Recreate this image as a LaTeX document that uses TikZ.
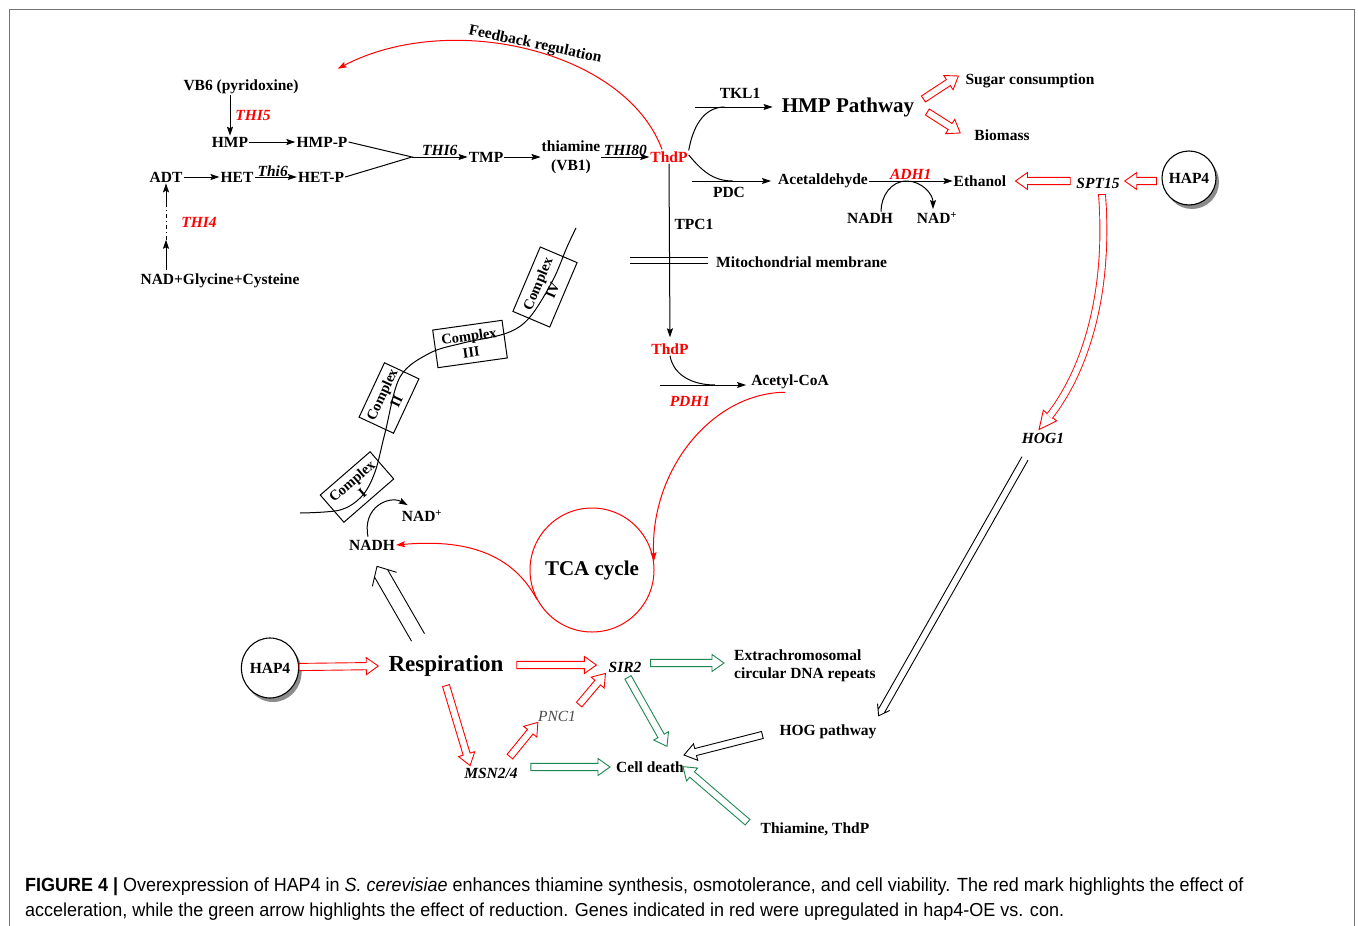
\documentclass[tikz,border=0pt]{standalone}
\usepackage{fontspec}
\setmainfont{Liberation Serif}
\setsansfont{Liberation Sans}
\usetikzlibrary{calc,arrows.meta,shapes.geometric,shadows}
\definecolor{gr}{RGB}{30,135,80}
\definecolor{rd}{RGB}{255,0,0}
% block arrow: options, from, to
\newcommand\barr[3]{%
  \path (#2) coordinate (bA) (#3) coordinate (bB);
  \path ($(bB)!12pt!(bA)$) coordinate (bC);
  \draw[line width=0.9pt, line join=miter, fill=white, #1]
    ($(bA)!3.6pt!90:(bB)$) -- ($(bC)!3.6pt!90:(bB)$) -- ($(bC)!8.5pt!90:(bB)$) -- (bB)
    -- ($(bC)!8.5pt!-90:(bB)$) -- ($(bC)!3.6pt!-90:(bB)$) -- ($(bA)!3.6pt!-90:(bB)$) -- cycle;}
% double-line arrow with open V head: halfwidth, head halfwidth, head length, from, to
\newcommand\darr[5]{%
  \path (#4) coordinate (bA) (#5) coordinate (bB);
  \path ($(bB)!#3!(bA)$) coordinate (bC);
  \path ($(bC)!0.45!(bB)$) coordinate (bD);
  \draw[line width=0.9pt]
    ($(bA)!#1!90:(bB)$) -- ($(bD)!#1!90:(bB)$)
    ($(bA)!#1!-90:(bB)$) -- ($(bD)!#1!-90:(bB)$)
    ($(bC)!#2!90:(bB)$) -- (bB) -- ($(bC)!#2!-90:(bB)$);}
\tikzset{
  t/.style={font=\fontsize{15.5}{17}\selectfont\bfseries, inner sep=1pt},
  ti/.style={font=\fontsize{15.5}{17}\selectfont\bfseries\itshape, inner sep=1pt},
  red text/.style={text=rd},
  big/.style={font=\fontsize{21}{24}\selectfont\bfseries, inner sep=1pt},
  ar/.style={-{Stealth[length=9pt,width=6pt,inset=1.5pt]}, line width=1pt},
  ln/.style={line width=1pt},
  rc/.style={draw=rd, line width=1pt},
  cx/.style={draw, line width=1pt, font=\fontsize{14.5}{16}\selectfont\bfseries, align=center,
    minimum width=64pt, minimum height=38pt, inner sep=0pt},
  hap/.style={draw, line width=1.1pt, fill=white, font=\fontsize{15.5}{17}\selectfont\bfseries,
    inner sep=0pt, drop shadow={shadow xshift=3pt, shadow yshift=-4pt, fill=black!45, opacity=1}},
}
\begin{document}
\begin{tikzpicture}[x=1pt,y=-1pt]
\useasboundingbox (0,0) rectangle (1358,926);
\fill[white] (0,0) rectangle (1358,926);
% frame
\draw[black!55, line width=0.9pt] (9,930) -- (9,9) -- (1354,9) -- (1354,930);

% ---------- thiamine synthesis ----------
\node[t, rotate=-12] (fb) at (535,45) {Feedback regulation};
\node[t] (vb6) at (241,87) {VB6 (pyridoxine)};
\node[ti, red text] (thi5) at (253,116) {THI5};
\node[t] (hmp) at (230,142) {HMP};
\node[t] (hmpp) at (322,142) {HMP-P};
\node[t] (adt) at (166,177) {ADT};
\node[t] (het) at (237,177) {HET};
\node[t] (hetp) at (321,177) {HET-P};
\node[t] (tmp) at (486,157) {TMP};
\node[t, align=center, font=\fontsize{15.5}{19}\selectfont\bfseries] (thia) at (571,157) {thiamine\\(VB1)};
\node[t, red text] (thdp) at (669,157) {ThdP};
\node[t] (nadg) at (220,281) {NAD+Glycine+Cysteine};
\node[ti, red text] (thi4) at (199,222) {THI4};
\coordinate (j) at (412,157);

\draw[ar] (hmp.north |- vb6.south) -- (hmp.north);
\draw[ar] (hmp.east) -- (hmpp.west);
\draw[ar] (adt.east) -- (het.west);
\draw[ar] (het.east) -- node[ti, above=-1pt, xshift=-3pt] (thi6a) {Thi6} (hetp.west);
\draw[ln] (hmpp.east) -- (j) -- (hetp.east);
\draw[ar] (j) -- node[ti, above=0pt] (thi6b) {THI6} (tmp.west);
\draw[ar] (tmp.east) -- (thia.west);
\draw[ar] (thia.east) -- node[ti, above=0pt] (thi80) {THI80} (thdp.west);
\coordinate (a1) at (adt.south |- nadg.north);
\draw[ar] ($(a1)+(0,-3)$) -- ($(a1)+(0,-33)$);
\draw[ln, dash pattern=on 4pt off 3pt on 1pt off 3pt] ($(a1)+(0,-33)$) -- ($(adt.south)+(0,18)$);
\draw[ar] ($(adt.south)+(0,20)$) -- (adt.south);
\draw[rc, -{Stealth[length=9pt,width=6pt,inset=1.5pt]}] ($(thdp.north)+(-7,-1)$) .. controls (625,50) and (450,10) .. ($(vb6.north east)+(38,-10)$);

% ---------- ThdP downstream ----------
\node[t] (tkl) at (740,93) {TKL1};
\node[big] (hmpw) at (848,107) {HMP Pathway};
\node[t] (sugar) at (1030,81) {Sugar consumption};
\node[t] (bio) at (1002,135) {Biomass};
\draw[ar, shorten <=6pt, shorten >=8pt] (thdp.east |- hmpw.west) -- (hmpw.west);
\draw[ln] (thdp.north east) to[out=80,in=180] ($(thdp.east |- hmpw.west)+(36,0)$);
\barr{draw=rd}{$(hmpw.east)+(8,-8)$}{$(sugar.west)+(-6,-5)$}
\barr{draw=rd}{$(hmpw.east)+(12,5)$}{$(bio.west)+(-13,-2)$}

\node[t] (acet) at (823,181) {Acetaldehyde};
\node[t] (pdc) at (729,192) {PDC};
\node[t] (eth) at (980,181) {Ethanol};
\draw[ar, shorten <=3pt, shorten >=6pt] (thdp.east |- acet.west) -- (acet.west);
\draw[ln] ($(thdp.east)+(0,-2)$) to[out=-50,in=180] ($(thdp.east |- acet.west)+(44,0)$);
\draw[ar] (acet.east) -- node[ti, red text, above=0pt] (adh) {ADH1} (eth.west);
\node[t] (nadh2) at (870,218) {NADH};
\node[t] (nadp2) at (937,218) {NAD\textsuperscript{+}};
\coordinate (pk) at ($(acet.east)!0.45!(eth.west)$);
\draw[ar] ($(nadh2.north)+(11,0)$) to[out=90,in=180] (pk) to[out=0,in=90] ($(nadp2.north)+(-4,-2)$);

\node[ti] (spt) at (1098,183) {SPT15};
\node[hap, circle, minimum size=54pt] (hap4a) at (1189,178) {HAP4};
\barr{draw=rd}{$(spt.west)+(-5,-2)$}{$(eth.east)+(8,0)$}
\barr{draw=rd}{$(hap4a.west)+(-5,3)$}{$(spt.east)+(4,-2)$}
\node[ti] (hog1) at (1043,438) {HOG1};
% curved block arrow SPT15 -> HOG1
\coordinate (hc) at ($(hog1.north)+(7,-16)$);
\coordinate (ht) at ($(hog1.north)+(-4,-2)$);
\coordinate (hs) at ($(spt.south)+(4,5)$);
\draw[draw=rd, line width=0.9pt, fill=white, line join=miter] ($(hc)!8.5pt!90:(ht)$) -- (ht) -- ($(hc)!8.5pt!-90:(ht)$) -- cycle;
\draw[draw=rd, line width=0.9pt, double=white, double distance=6pt] (hs) .. controls (1110,300) and (1082,375) .. ($(hc)!1pt!(ht)$);
\draw[draw=rd, line width=0.9pt] ($(hs)+(-3.9,0)$) -- ($(hs)+(3.9,0)$);

% ---------- mitochondrion ----------
\node[t] (tpc) at (694,224) {TPC1};
\node[t, red text] (thdp2) at (670,349) {ThdP};
\draw[ar, shorten >=5pt] (thdp.south) -- (thdp2.north);
\draw[ln] (630,257) -- (708,257) (630,263) -- (708,263);
\node[t, anchor=west] (memb) at (715,262) {Mitochondrial membrane};
\node[t] (acoa) at (790,382) {Acetyl-CoA};
\draw[ar, shorten >=4pt] ($(acoa.west)+(-90,3)$) -- ($(acoa.west)+(0,3)$);
\draw[ln] (thdp2.south) to[out=-80,in=180] ($(acoa.west)+(-35,3)$);
\node[ti, red text] (pdh) at (690,401) {PDH1};

\node[draw=rd, circle, line width=1pt, minimum size=124pt, big] (tca) at (592,570) {TCA cycle};
\draw[rc, -{Stealth[length=9pt,width=6pt,inset=1.5pt]}] ($(acoa.south)+(-5,2)$) .. controls (712,393) and (650,470) .. (tca.8);
\node[t] (nadh) at (372,545) {NADH};
\node[t] (nadp) at (422,516) {NAD\textsuperscript{+}};
\draw[rc, -{Stealth[length=9pt,width=6pt,inset=1.5pt]}] (tca.208) to[out=118,in=5] (nadh.east);

% membrane with respiratory complexes
\draw[ln] plot[smooth, tension=0.55] coordinates {(300,513) (340,510) (362,496) (375,472) (385,433) (400,377) (430,353) (463,343) (507,333) (530,317) (553,280) (567,247) (576,228)};
\node[cx, rotate=41, minimum width=66pt, minimum height=36pt] (c1) at (357,487) {Complex\\I};
\node[cx, rotate=65, minimum width=60pt] (c2) at (389,398) {Complex\\II};
\node[cx, rotate=8, minimum width=70pt] (c3) at (470,344) {Complex\\III};
\node[cx, rotate=67, minimum width=70pt, minimum height=40pt] (c4) at (545,287) {Complex\\IV};
\draw[ar] ($(nadh.north)+(-4,-2)$) .. controls +(-6,-30) and +(-18,-10) .. ($(nadp.north west)+(7,-4)$);

% ---------- respiration ----------
\node[hap, ellipse, minimum width=56pt, minimum height=60pt] (hap4b) at (270,668) {HAP4};
\node[font=\fontsize{23}{26}\selectfont\bfseries, inner sep=1pt] (resp) at (446,666) {Respiration};
\node[ti] (sir2) at (625,667) {SIR2};
\node[t, anchor=west, align=left, font=\fontsize{15.5}{18}\selectfont\bfseries] (ecd) at (733,666) {Extrachromosomal\\circular DNA repeats};
\node[ti] (msn) at (491,773) {MSN2/4};
\node[font=\fontsize{15.5}{17}\selectfont\itshape, text=black!70, inner sep=1pt] (pnc) at (557,716) {PNC1};
\node[t] (death) at (650,767) {Cell death};
\node[t] (hogp) at (828,732) {HOG pathway};
\node[t] (thiam) at (815,829) {Thiamine, ThdP};

\barr{draw=rd}{$(hap4b.east)+(0,-1)$}{$(resp.west)+(-9,0)$}
\barr{draw=rd}{$(resp.east)+(12,-1)$}{$(sir2.west)+(-11,-2)$}
\barr{draw=gr}{$(sir2.east)+(8,-4)$}{$(ecd.west)+(-9,-3)$}
\barr{draw=rd}{$(resp.south)+(0,8)$}{$(msn.north west)+(7,-1)$}
\barr{draw=rd}{$(msn.north east)+(-9,-10)$}{$(pnc.south west)+(1,0)$}
\barr{draw=rd}{$(pnc.north east)+(2,-5)$}{$(sir2.south west)+(-2,0)$}
\barr{draw=gr}{$(msn.east)+(12,-6)$}{$(death.west)+(-5,0)$}
\barr{draw=gr}{$(sir2.south)+(3,4)$}{$(death.north)+(17,-14)$}
\barr{draw=black}{$(hogp.west)+(-16,3)$}{$(death.east)+(-1,-12)$}
\barr{draw=gr}{$(thiam.north west)+(-12,1)$}{$(death.south east)+(-2,-7)$}
\darr{3.5pt}{7pt}{10pt}{$(hog1.south)+(-18,14)$}{$(hogp.north east)+(1,-8)$}
\darr{7.5pt}{14pt}{15pt}{$(resp.north)+(-28,-17)$}{$(nadh.south)+(5,15)$}

% ---------- caption ----------
\node[anchor=base west, inner sep=0pt, font=\sffamily] (cap1) at (25,891)
  {\resizebox{1218pt}{13.8pt}{\textbf{FIGURE 4 |} Overexpression of HAP4 in \textit{S. cerevisiae} enhances thiamine synthesis, osmotolerance, and cell viability. The red mark highlights the effect of}};
\node[anchor=base west, inner sep=0pt, font=\sffamily] (cap2) at (25,916)
  {\resizebox{1039pt}{13.6pt}{acceleration, while the green arrow highlights the effect of reduction. Genes indicated in red were upregulated in hap4-OE vs. con.}};
\end{tikzpicture}
\end{document}
